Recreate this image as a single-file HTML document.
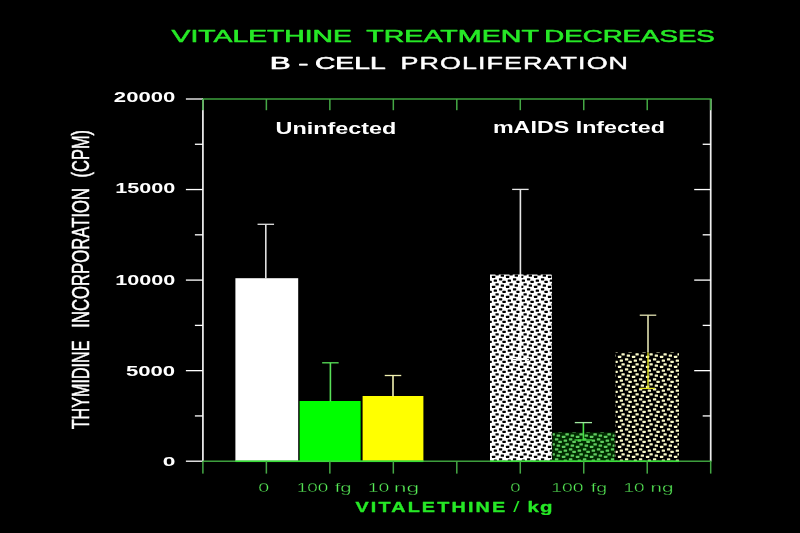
<!DOCTYPE html>
<html><head><meta charset="utf-8"><title>Vitalethine</title>
<style>
html,body{margin:0;padding:0;background:#000;width:800px;height:533px;overflow:hidden}
svg{display:block;font-family:"Liberation Sans",sans-serif}
</style></head><body>
<svg width="800" height="533" viewBox="0 0 800 533">
<defs>
<pattern id="pw" patternUnits="userSpaceOnUse" x="0" y="0" width="14" height="10"><rect x="0" y="0" width="14" height="10" fill="#ffffff"/><rect x="1.95" y="5.85" width="3.30" height="2.10" rx="0.5" fill="#000000"/><rect x="8.95" y="-1.65" width="3.30" height="2.10" rx="0.5" fill="#000000"/><rect x="8.95" y="8.35" width="3.30" height="2.10" rx="0.5" fill="#000000"/><rect x="3.70" y="-0.40" width="3.30" height="2.10" rx="0.5" fill="#000000"/><rect x="3.70" y="9.60" width="3.30" height="2.10" rx="0.5" fill="#000000"/><rect x="-1.55" y="0.85" width="3.30" height="2.10" rx="0.5" fill="#000000"/><rect x="12.45" y="0.85" width="3.30" height="2.10" rx="0.5" fill="#000000"/><rect x="5.45" y="3.35" width="3.30" height="2.10" rx="0.5" fill="#000000"/><rect x="10.70" y="4.60" width="3.30" height="2.10" rx="0.5" fill="#000000"/></pattern>
<pattern id="pg" patternUnits="userSpaceOnUse" x="0" y="0" width="14" height="10"><rect x="0" y="0" width="14" height="10" fill="#002a00"/><rect x="1.85" y="5.80" width="3.50" height="2.20" rx="0.5" fill="#5ecb5e"/><rect x="8.85" y="-1.70" width="3.50" height="2.20" rx="0.5" fill="#5ecb5e"/><rect x="8.85" y="8.30" width="3.50" height="2.20" rx="0.5" fill="#5ecb5e"/><rect x="3.60" y="-0.45" width="3.50" height="2.20" rx="0.5" fill="#5ecb5e"/><rect x="3.60" y="9.55" width="3.50" height="2.20" rx="0.5" fill="#5ecb5e"/><rect x="-1.65" y="0.80" width="3.50" height="2.20" rx="0.5" fill="#5ecb5e"/><rect x="12.35" y="0.80" width="3.50" height="2.20" rx="0.5" fill="#5ecb5e"/><rect x="5.35" y="3.30" width="3.50" height="2.20" rx="0.5" fill="#5ecb5e"/><rect x="-3.40" y="4.55" width="3.50" height="2.20" rx="0.5" fill="#5ecb5e"/><rect x="10.60" y="4.55" width="3.50" height="2.20" rx="0.5" fill="#5ecb5e"/></pattern>
<pattern id="py" patternUnits="userSpaceOnUse" x="0" y="0" width="14" height="10"><rect x="0" y="0" width="14" height="10" fill="#000000"/><rect x="1.95" y="5.80" width="3.30" height="2.20" rx="0.5" fill="#fafac8"/><rect x="8.95" y="-1.70" width="3.30" height="2.20" rx="0.5" fill="#fafac8"/><rect x="8.95" y="8.30" width="3.30" height="2.20" rx="0.5" fill="#fafac8"/><rect x="3.70" y="-0.45" width="3.30" height="2.20" rx="0.5" fill="#fafac8"/><rect x="3.70" y="9.55" width="3.30" height="2.20" rx="0.5" fill="#fafac8"/><rect x="-1.55" y="0.80" width="3.30" height="2.20" rx="0.5" fill="#fafac8"/><rect x="12.45" y="0.80" width="3.30" height="2.20" rx="0.5" fill="#fafac8"/><rect x="5.45" y="3.30" width="3.30" height="2.20" rx="0.5" fill="#fafac8"/><rect x="10.70" y="4.55" width="3.30" height="2.20" rx="0.5" fill="#fafac8"/></pattern>
<filter id="soft" x="-5%" y="-5%" width="110%" height="110%"><feGaussianBlur stdDeviation="0.5"/></filter>
</defs>
<rect width="800" height="533" fill="#000"/>
<g filter="url(#soft)">
<rect x="235.40" y="278.20" width="62.80" height="183.00" fill="#ffffff"/>
<rect x="299.60" y="401.00" width="61.00" height="60.20" fill="#00ff00"/>
<rect x="362.60" y="396.00" width="60.80" height="65.20" fill="#ffff00"/>
<rect x="490.00" y="274.50" width="62.00" height="186.70" fill="url(#pw)"/>
<rect x="552.60" y="432.50" width="62.00" height="28.70" fill="url(#pg)"/>
<rect x="615.60" y="352.50" width="63.40" height="108.70" fill="url(#py)"/>
<rect x="265.00" y="224.30" width="1.60" height="54.20" fill="#e0e0e0"/>
<rect x="257.55" y="223.65" width="16.50" height="1.30" fill="#e0e0e0"/>
<rect x="329.60" y="362.80" width="1.60" height="38.70" fill="#58e058"/>
<rect x="322.15" y="362.15" width="16.50" height="1.30" fill="#58e058"/>
<rect x="392.20" y="375.50" width="1.60" height="21.00" fill="#f0f0b0"/>
<rect x="384.75" y="374.85" width="16.50" height="1.30" fill="#f0f0b0"/>
<rect x="519.60" y="189.40" width="1.60" height="85.60" fill="#e6e6e6"/>
<rect x="512.15" y="188.75" width="16.50" height="1.30" fill="#e6e6e6"/>
<rect x="519.62" y="274.50" width="1.75" height="85.00" fill="#ffffff"/>
<rect x="512.00" y="358.85" width="17.00" height="1.30" fill="#ffffff"/>
<rect x="582.60" y="422.60" width="1.60" height="17.40" fill="#48e048"/>
<rect x="574.80" y="421.95" width="17.20" height="1.30" fill="#a0e8a0"/>
<rect x="574.50" y="439.35" width="17.50" height="1.30" fill="#40d840"/>
<rect x="647.20" y="315.20" width="1.60" height="37.30" fill="#e0e0b0"/>
<rect x="639.75" y="314.55" width="16.50" height="1.30" fill="#e0e0b0"/>
<rect x="647.33" y="352.50" width="1.35" height="35.90" fill="#e4e41c"/>
<rect x="639.50" y="387.75" width="15.50" height="1.30" fill="#e0e01c"/>
<rect x="202.03" y="99.00" width="1.75" height="362.20" fill="#ececec"/>
<rect x="709.83" y="99.00" width="1.75" height="362.20" fill="#ececec"/>
<rect x="202.00" y="98.35" width="509.60" height="1.30" fill="#48b848"/>
<rect x="202.00" y="460.55" width="509.60" height="1.30" fill="#48b848"/>
<rect x="235.40" y="460.55" width="188.00" height="1.50" fill="#38dc38"/>
<rect x="490.00" y="460.55" width="189.00" height="1.50" fill="#38dc38"/>
<rect x="185.90" y="460.55" width="17.00" height="1.30" fill="#ffffff"/>
<rect x="194.90" y="415.28" width="8.00" height="1.30" fill="#ffffff"/>
<rect x="702.70" y="415.28" width="8.00" height="1.30" fill="#ffffff"/>
<rect x="185.90" y="370.00" width="17.00" height="1.30" fill="#ffffff"/>
<rect x="694.20" y="370.00" width="16.50" height="1.30" fill="#ffffff"/>
<rect x="194.90" y="324.73" width="8.00" height="1.30" fill="#ffffff"/>
<rect x="702.70" y="324.73" width="8.00" height="1.30" fill="#ffffff"/>
<rect x="185.90" y="279.45" width="17.00" height="1.30" fill="#ffffff"/>
<rect x="694.20" y="279.45" width="16.50" height="1.30" fill="#ffffff"/>
<rect x="194.90" y="234.17" width="8.00" height="1.30" fill="#ffffff"/>
<rect x="702.70" y="234.17" width="8.00" height="1.30" fill="#ffffff"/>
<rect x="185.90" y="188.90" width="17.00" height="1.30" fill="#ffffff"/>
<rect x="694.20" y="188.90" width="16.50" height="1.30" fill="#ffffff"/>
<rect x="194.90" y="143.62" width="8.00" height="1.30" fill="#ffffff"/>
<rect x="702.70" y="143.62" width="8.00" height="1.30" fill="#ffffff"/>
<rect x="185.90" y="98.35" width="17.00" height="1.30" fill="#ffffff"/>
<rect x="202.15" y="99.00" width="1.50" height="11.20" fill="#44a844"/>
<rect x="202.15" y="461.20" width="1.50" height="12.40" fill="#44a844"/>
<rect x="265.62" y="99.00" width="1.50" height="11.20" fill="#44a844"/>
<rect x="265.62" y="461.20" width="1.50" height="12.40" fill="#44a844"/>
<rect x="329.10" y="99.00" width="1.50" height="11.20" fill="#44a844"/>
<rect x="329.10" y="461.20" width="1.50" height="12.40" fill="#44a844"/>
<rect x="392.58" y="99.00" width="1.50" height="11.20" fill="#44a844"/>
<rect x="392.58" y="461.20" width="1.50" height="12.40" fill="#44a844"/>
<rect x="456.05" y="99.00" width="1.50" height="11.20" fill="#44a844"/>
<rect x="456.05" y="461.20" width="1.50" height="12.40" fill="#44a844"/>
<rect x="519.53" y="99.00" width="1.50" height="11.20" fill="#44a844"/>
<rect x="519.53" y="461.20" width="1.50" height="12.40" fill="#44a844"/>
<rect x="583.00" y="99.00" width="1.50" height="11.20" fill="#44a844"/>
<rect x="583.00" y="461.20" width="1.50" height="12.40" fill="#44a844"/>
<rect x="646.48" y="99.00" width="1.50" height="11.20" fill="#44a844"/>
<rect x="646.48" y="461.20" width="1.50" height="12.40" fill="#44a844"/>
<rect x="709.95" y="99.00" width="1.50" height="11.20" fill="#44a844"/>
<rect x="709.95" y="461.20" width="1.50" height="12.40" fill="#44a844"/>
</g>
<g filter="url(#soft)">
<text x="171.63" y="41.73" font-size="16.46" fill="#26e826" stroke="#26e826" stroke-width="0.55" stroke-linejoin="round" textLength="180.31" lengthAdjust="spacingAndGlyphs">VITALETHINE</text>
<text x="366.16" y="41.73" font-size="16.46" fill="#26e826" stroke="#26e826" stroke-width="0.55" stroke-linejoin="round" textLength="172.78" lengthAdjust="spacingAndGlyphs">TREATMENT</text>
<text x="544.33" y="41.73" font-size="16.07" fill="#26e826" stroke="#26e826" stroke-width="0.55" stroke-linejoin="round" textLength="170.47" lengthAdjust="spacingAndGlyphs">DECREASES</text>
<text x="269.80" y="69.00" font-size="15.95" fill="#ffffff" stroke="#ffffff" stroke-width="0.6" stroke-linejoin="round" textLength="20.97" lengthAdjust="spacingAndGlyphs">B</text>
<text x="298.29" y="69.00" font-size="15.95" fill="#ffffff" stroke="#ffffff" stroke-width="0.6" stroke-linejoin="round" textLength="10.22" lengthAdjust="spacingAndGlyphs">-</text>
<text x="314.97" y="69.02" font-size="15.64" fill="#ffffff" stroke="#ffffff" stroke-width="0.55" stroke-linejoin="round" textLength="70.63" lengthAdjust="spacingAndGlyphs">CELL</text>
<text x="400.53" y="69.11" font-size="15.89" fill="#ffffff" letter-spacing="0.635" stroke="#ffffff" stroke-width="0.38" stroke-linejoin="round" textLength="228.62" lengthAdjust="spacingAndGlyphs">PROLIFERATION</text>
<text x="275.64" y="133.50" font-size="15.77" fill="#ffffff" font-weight="bold" textLength="120.73" lengthAdjust="spacingAndGlyphs">Uninfected</text>
<text x="492.95" y="133.40" font-size="15.91" fill="#ffffff" font-weight="bold" textLength="171.97" lengthAdjust="spacingAndGlyphs">mAIDS Infected</text>
<text x="113.86" y="102.00" font-size="13.71" fill="#ffffff" font-weight="bold" textLength="61.49" lengthAdjust="spacingAndGlyphs">20000</text>
<text x="115.26" y="193.30" font-size="13.71" fill="#ffffff" font-weight="bold" textLength="60.07" lengthAdjust="spacingAndGlyphs">15000</text>
<text x="115.26" y="284.50" font-size="13.86" fill="#ffffff" font-weight="bold" textLength="60.07" lengthAdjust="spacingAndGlyphs">10000</text>
<text x="125.96" y="375.70" font-size="14.00" fill="#ffffff" font-weight="bold" textLength="49.25" lengthAdjust="spacingAndGlyphs">5000</text>
<text x="162.74" y="465.60" font-size="13.43" fill="#ffffff" font-weight="bold" textLength="12.66" lengthAdjust="spacingAndGlyphs">0</text>
<text x="258.34" y="491.90" font-size="12.29" fill="#58ee58" stroke="#000" stroke-width="0.3" textLength="10.93" lengthAdjust="spacingAndGlyphs">0</text>
<text x="296.82" y="491.90" font-size="12.29" fill="#58ee58" stroke="#000" stroke-width="0.3" textLength="31.54" lengthAdjust="spacingAndGlyphs">100</text>
<text x="334.76" y="491.90" font-size="12.29" fill="#58ee58" stroke="#000" stroke-width="0.3" textLength="16.79" lengthAdjust="spacingAndGlyphs">fg</text>
<text x="367.78" y="491.90" font-size="12.29" fill="#58ee58" stroke="#000" stroke-width="0.3" textLength="21.61" lengthAdjust="spacingAndGlyphs">10</text>
<text x="393.77" y="491.90" font-size="12.29" fill="#58ee58" stroke="#000" stroke-width="0.3" textLength="25.46" lengthAdjust="spacingAndGlyphs">ng</text>
<text x="510.18" y="491.90" font-size="12.29" fill="#58ee58" stroke="#000" stroke-width="0.3" textLength="10.36" lengthAdjust="spacingAndGlyphs">0</text>
<text x="551.29" y="491.90" font-size="12.29" fill="#58ee58" stroke="#000" stroke-width="0.3" textLength="32.29" lengthAdjust="spacingAndGlyphs">100</text>
<text x="590.87" y="491.90" font-size="12.29" fill="#58ee58" stroke="#000" stroke-width="0.3" textLength="16.35" lengthAdjust="spacingAndGlyphs">fg</text>
<text x="623.42" y="491.90" font-size="12.29" fill="#58ee58" stroke="#000" stroke-width="0.3" textLength="21.16" lengthAdjust="spacingAndGlyphs">10</text>
<text x="650.62" y="491.90" font-size="12.29" fill="#58ee58" stroke="#000" stroke-width="0.3" textLength="22.97" lengthAdjust="spacingAndGlyphs">ng</text>
<text x="355.42" y="511.52" font-size="14.71" fill="#26e826" font-weight="bold" letter-spacing="1.618" stroke="#26e826" stroke-width="0.35" stroke-linejoin="round" textLength="151.97" lengthAdjust="spacingAndGlyphs">VITALETHINE</text>
<text x="513.30" y="511.70" font-size="14.71" fill="#26e826" textLength="6.18" lengthAdjust="spacingAndGlyphs">/</text>
<text x="527.58" y="511.52" font-size="14.71" fill="#26e826" font-weight="bold" letter-spacing="0.735" stroke="#26e826" stroke-width="0.35" stroke-linejoin="round" textLength="25.86" lengthAdjust="spacingAndGlyphs">kg</text>
<text transform="translate(88.55,429.30) rotate(-90)" x="0.03" y="0" font-size="23.56" fill="#fff" stroke="#fff" stroke-width="0.5" textLength="88.81" lengthAdjust="spacingAndGlyphs">THYMIDINE</text>
<text transform="translate(88.55,326.60) rotate(-90)" x="-1.09" y="0" font-size="23.56" fill="#fff" stroke="#fff" stroke-width="0.5" textLength="139.77" lengthAdjust="spacingAndGlyphs">INCORPORATION</text>
<text transform="translate(88.55,176.60) rotate(-90)" x="-0.79" y="0" font-size="23.56" fill="#fff" stroke="#fff" stroke-width="0.5" textLength="47.40" lengthAdjust="spacingAndGlyphs">(CPM)</text>
</g>
</svg>
</body></html>
